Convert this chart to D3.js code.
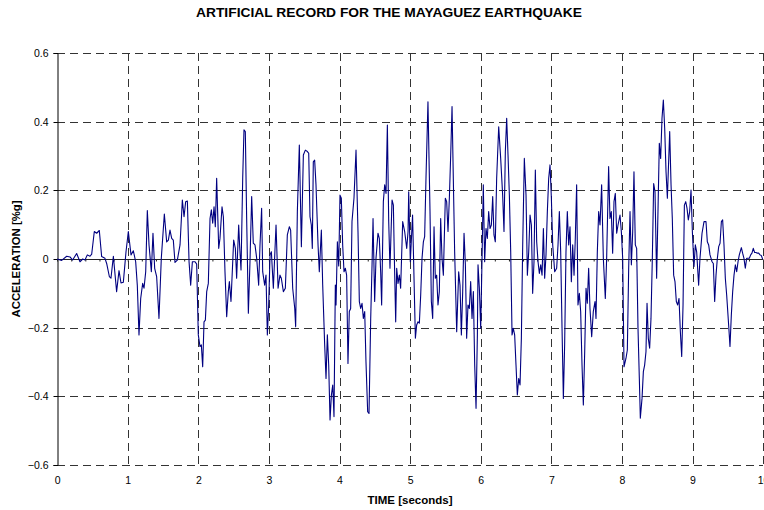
<!DOCTYPE html>
<html>
<head>
<meta charset="utf-8">
<script src="https://cdn.jsdelivr.net/npm/d3@7"></script>
<style>
  html, body { margin: 0; padding: 0; background: #fff; }
  svg { display: block; font-family: "Liberation Sans", Arial, sans-serif; }
</style>
</head>
<body>
<svg id="chart" width="764" height="510"></svg>
<script>
// Synthetic accelerogram: time (s) and acceleration (%g)
const time = [
  0,0.065,0.136,0.183,0.220,0.277,0.324,0.362,0.395,0.428,0.466,0.490,0.527,0.560,0.598,0.631,0.678,0.702,0.740,0.763,
  0.797,0.843,0.877,0.905,0.938,0.976,1.009,1.047,1.080,1.113,1.136,1.160,1.184,1.212,1.231,1.255,1.278,1.302,1.335,1.358,
  1.382,1.410,1.443,1.476,1.519,1.552,1.576,1.599,1.623,1.646,1.670,1.703,1.741,1.774,1.798,1.821,1.845,1.869,1.892,1.916,
  1.954,1.977,2.000,2.024,2.043,2.062,2.081,2.100,2.119,2.142,2.166,2.185,2.204,2.223,2.241,2.260,2.289,2.307,2.336,2.355,
  2.378,2.402,2.425,2.440,2.463,2.501,2.525,2.543,2.572,2.586,2.605,2.629,2.647,2.666,2.685,2.709,2.732,2.756,2.779,2.803,
  2.827,2.855,2.874,2.897,2.912,2.940,2.959,2.978,2.997,3.016,3.035,3.063,3.101,3.130,3.157,3.176,3.205,3.233,3.261,3.290,
  3.308,3.337,3.366,3.379,3.403,3.431,3.460,3.488,3.516,3.545,3.564,3.582,3.601,3.615,3.629,3.648,3.667,3.696,3.714,3.743,
  3.762,3.790,3.809,3.828,3.847,3.866,3.885,3.904,3.922,3.941,3.951,3.970,3.989,4.007,4.026,4.045,4.064,4.083,4.101,4.120,
  4.139,4.158,4.177,4.205,4.234,4.262,4.281,4.300,4.319,4.338,4.357,4.375,4.399,4.418,4.442,4.461,4.475,4.498,4.517,4.545,
  4.564,4.583,4.597,4.621,4.640,4.659,4.678,4.697,4.715,4.744,4.763,4.777,4.796,4.810,4.829,4.848,4.866,4.895,4.923,4.952,
  4.971,4.980,5.003,5.035,5.075,5.093,5.112,5.131,5.150,5.169,5.188,5.206,5.225,5.253,5.282,5.301,5.320,5.339,5.357,5.376,
  5.395,5.414,5.433,5.452,5.471,5.499,5.518,5.537,5.556,5.575,5.594,5.612,5.631,5.660,5.688,5.707,5.726,5.745,5.764,5.783,
  5.801,5.820,5.839,5.858,5.877,5.896,5.915,5.934,5.953,5.962,5.981,6.000,6.019,6.037,6.056,6.075,6.094,6.113,6.132,6.151,
  6.170,6.188,6.207,6.226,6.255,6.283,6.311,6.330,6.349,6.368,6.387,6.406,6.425,6.444,6.462,6.481,6.500,6.519,6.538,6.557,
  6.576,6.595,6.618,6.642,6.661,6.680,6.699,6.718,6.736,6.755,6.774,6.793,6.812,6.831,6.850,6.869,6.888,6.906,6.925,6.944,
  6.963,6.982,7.001,7.020,7.048,7.076,7.095,7.114,7.133,7.152,7.171,7.189,7.208,7.227,7.246,7.265,7.284,7.303,7.322,7.340,
  7.359,7.378,7.397,7.416,7.435,7.454,7.473,7.492,7.510,7.529,7.548,7.572,7.595,7.619,7.633,7.652,7.671,7.690,7.713,7.737,
  7.765,7.784,7.812,7.831,7.850,7.869,7.888,7.907,7.926,7.945,7.973,7.992,8.011,8.030,8.058,8.077,8.096,8.115,8.134,8.153,
  8.171,8.190,8.209,8.228,8.247,8.261,8.285,8.304,8.322,8.341,8.356,8.374,8.393,8.412,8.431,8.450,8.469,8.492,8.511,8.530,
  8.549,8.568,8.587,8.606,8.625,8.644,8.662,8.677,8.696,8.714,8.733,8.752,8.771,8.790,8.809,8.828,8.847,8.866,8.885,8.904,
  8.922,8.941,8.960,8.979,8.998,9.021,9.040,9.059,9.087,9.106,9.135,9.163,9.191,9.210,9.229,9.248,9.277,9.295,9.314,9.333,
  9.352,9.371,9.390,9.409,9.427,9.446,9.465,9.484,9.512,9.531,9.550,9.569,9.588,9.607,9.626,9.645,9.663,9.692,9.710,9.729,
  9.748,9.767,9.786,9.805,9.824,9.842,9.861,9.880,9.899,9.918,9.937,9.956,9.975,9.993
];
const accel = [
  0,-0.004,0.008,0.006,-0.003,0.016,-0.008,0,-0.003,0.012,0.008,0.014,0.080,0.075,0.083,0.007,0.002,-0.013,-0.051,-0.056,
  0.008,-0.095,-0.034,-0.070,-0.068,0.021,0.080,0.012,0.024,-0.008,-0.076,-0.221,-0.115,-0.071,-0.085,-0.037,0.141,0.041,-0.037,0.075,
  -0.027,-0.051,-0.173,0.002,0.131,0.050,0.055,0.084,0.060,0.055,-0.010,-0.003,0.041,0.172,0.123,0.167,0.169,-0.008,-0.076,-0.008,
  -0.008,-0.015,-0.221,-0.255,-0.250,-0.314,-0.183,-0.178,-0.095,-0.071,0.118,0.143,0.104,0.152,0.094,0.235,0.031,0.060,0.152,0.123,
  -0.037,-0.168,-0.095,-0.066,-0.124,0.055,0.031,-0.056,0.099,0.036,-0.032,0.235,0.376,0.371,0.118,-0.158,-0.008,0.182,0.046,0.041,
  0.002,-0.076,0.041,0.148,-0.037,-0.076,-0.047,-0.221,-0.134,0.012,0.021,-0.085,0.099,-0.085,-0.047,-0.056,-0.095,-0.085,0.070,0.094,
  0.084,-0.085,-0.144,-0.197,0.138,0.332,0.036,0.303,0.317,0.313,0.308,0.123,0.099,0.031,0.283,0.288,0.216,0.041,-0.037,0.084,
  -0.076,-0.250,-0.348,-0.221,-0.309,-0.469,-0.396,-0.367,-0.459,-0.076,-0.134,0.050,-0.020,0.186,0.177,0.041,-0.037,-0.027,-0.047,-0.304,
  -0.153,-0.144,0.109,0.177,0.317,0.080,-0.124,-0.144,-0.129,-0.173,-0.153,-0.299,-0.445,-0.450,-0.173,-0.017,0.118,-0.124,0.002,0.075,
  0.060,-0.037,-0.134,0.167,0.216,0.191,0.390,0.109,-0.027,0.172,0.157,0.002,-0.183,-0.027,-0.071,-0.047,-0.085,0.109,0.080,0.031,
  0.080,0.196,-0.008,0.128,-0.231,-0.192,-0.183,-0.187,-0.105,0.002,0.050,0.065,0.235,0.458,0.138,-0.124,-0.173,0.094,-0.056,-0.047,
  -0.134,-0.095,0.118,0.002,-0.047,0.177,0.167,0.080,0.177,0.303,0.444,0.235,0.021,-0.212,-0.037,-0.076,-0.221,-0.095,0.075,-0.017,
  -0.231,-0.134,-0.144,-0.066,-0.173,-0.095,-0.309,-0.435,-0.221,-0.017,-0.085,-0.202,0.002,0.216,-0.008,0.089,0.060,0.138,0.089,0.099,
  0.182,0.070,0.050,0.235,0.385,0.293,0.186,0.080,0.313,0.410,0.303,0.186,0.021,-0.221,-0.202,-0.221,-0.309,-0.396,-0.348,-0.367,
  -0.231,0.041,0.293,0.186,-0.047,0.021,0.128,0.099,-0.100,-0.008,0.259,0.050,-0.008,-0.042,-0.017,-0.047,0.089,-0.056,0.012,0.138,
  0.235,0.274,0.177,0.041,-0.037,-0.027,0.041,0.138,0.021,-0.202,-0.406,-0.250,0.021,0.138,0.041,0.094,-0.066,0.041,-0.047,0.060,
  0.216,-0.134,-0.100,-0.153,-0.309,-0.425,-0.270,-0.085,-0.129,-0.027,-0.144,-0.226,-0.153,-0.124,-0.173,0.021,0.138,0.099,0.216,0.002,
  -0.115,0.002,0.269,0.118,0.138,0.017,0.167,0.191,0.075,0.099,0.128,0.080,0.002,-0.314,-0.289,-0.265,-0.027,0.138,-0.017,0.080,
  0.254,0.041,0.031,-0.202,-0.348,-0.464,-0.406,-0.328,-0.309,-0.270,-0.129,-0.231,-0.260,-0.173,0.002,0.220,0.196,-0.056,0.138,0.337,
  0.293,0.410,0.463,0.381,0.254,0.177,0.283,0.371,0.216,0.118,-0.047,-0.066,-0.124,-0.134,-0.115,-0.212,-0.284,-0.134,0.157,0.167,
  0.148,0.114,0.138,0.201,0.080,-0.022,0.041,0.021,-0.076,0.002,0.075,0.109,0.109,0.050,0.041,0.012,-0.008,-0.013,-0.124,-0.047,
  0.002,0.036,0.046,0.109,0.114,0.041,-0.056,-0.105,-0.192,-0.255,-0.163,-0.095,-0.047,-0.017,-0.037,-0.008,0.012,0.033,0.017,0.002,
  -0.027,0.002,0.002,0.002,0.012,0.017,0.031,0.019,0.019,0.017,0.017,0.012,0.010,0
];
const xTicks = [0,1,2,3,4,5,6,7,8,9,10];
const yTicks = [-0.6,-0.4,-0.2,0,0.2,0.4,0.6];
const minorX = d3.range(0, 10.0001, 0.2);

const svg = d3.select("#chart");
const plotLeft = 57.1, plotRight = 763.1, plotTop = 53, plotBottom = 465;
const x = d3.scaleLinear().domain([0, 10]).range([plotLeft, plotRight]);
const y = d3.scaleLinear().domain([-0.6, 0.6]).range([plotBottom, plotTop]);
const fontFamily = "'Liberation Sans', Arial, sans-serif";

// dashed grid
const grid = svg.append("g")
  .attr("stroke", "#333").attr("stroke-width", 1).attr("stroke-dasharray", "8,5")
  .attr("shape-rendering", "crispEdges");
grid.selectAll("line.h").data(yTicks.filter(d => d !== 0)).join("line")
  .attr("class", "h")
  .attr("x1", plotLeft).attr("x2", plotRight)
  .attr("y1", d => Math.round(y(d)) + 0.5).attr("y2", d => Math.round(y(d)) + 0.5);
grid.selectAll("line.v").data(xTicks.filter(d => d !== 0)).join("line")
  .attr("class", "v")
  .attr("x1", d => Math.round(x(d)) + 0.5).attr("x2", d => Math.round(x(d)) + 0.5)
  .attr("y1", plotTop).attr("y2", plotBottom);

// y axis on the left
const yAxis = d3.axisLeft(y).tickValues(yTicks).tickSize(4).tickPadding(5)
  .tickFormat(d => d === 0 ? "0" : d3.format(".1f")(d));
const gy = svg.append("g").attr("transform", `translate(${Math.round(plotLeft) + 0.5},0)`).call(yAxis);
gy.select(".domain").attr("stroke", "#000");
gy.selectAll(".tick line").attr("stroke", "#000");
gy.selectAll(".tick text").attr("font-size", 10.5).attr("fill", "#000")
  .attr("font-family", fontFamily);
gy.selectAll(".tick").attr("transform", d => `translate(0,${Math.round(y(d)) + 0.5})`);

// zero line with minor ticks
const gx0 = svg.append("g").attr("transform", `translate(0,${Math.round(y(0)) + 0.5})`)
  .call(d3.axisBottom(x).tickValues(minorX).tickSize(2).tickFormat(""));
gx0.select(".domain").attr("stroke", "#222").attr("d", `M${plotLeft},0H${plotRight}`);
gx0.selectAll(".tick line").attr("stroke", "#222");

// time labels below the plot
const gx = svg.append("g").attr("transform", `translate(0,${plotBottom})`)
  .call(d3.axisBottom(x).tickValues(xTicks).tickSize(0).tickPadding(12).tickFormat(d3.format("d")));
gx.select(".domain").remove();
gx.selectAll(".tick text").attr("font-size", 10.5).attr("fill", "#000")
  .attr("font-family", fontFamily);

// acceleration trace
const n = Math.min(time.length, accel.length);
const series = d3.range(n).map(i => ({ t: time[i], a: accel[i] }));
svg.append("path").datum(series)
  .attr("fill", "none").attr("stroke", "#000080").attr("stroke-width", 1.1)
  .attr("stroke-linejoin", "round")
  .attr("d", d3.line().x(d => x(d.t)).y(d => y(d.a)));

// titles
svg.append("text").attr("x", 389).attr("y", 17).attr("text-anchor", "middle")
  .attr("font-size", 13).attr("font-weight", "bold")
  .attr("textLength", 386).attr("lengthAdjust", "spacingAndGlyphs")
  .text("ARTIFICIAL RECORD FOR THE MAYAGUEZ EARTHQUAKE");
svg.append("text").attr("x", 410).attr("y", 504).attr("text-anchor", "middle")
  .attr("font-size", 11).attr("font-weight", "bold")
  .attr("textLength", 85).attr("lengthAdjust", "spacingAndGlyphs")
  .text("TIME [seconds]");
svg.append("text").attr("transform", "translate(20,259) rotate(-90)").attr("text-anchor", "middle")
  .attr("font-size", 11).attr("font-weight", "bold")
  .attr("textLength", 117).attr("lengthAdjust", "spacingAndGlyphs")
  .text("ACCELERATION [%g]");
</script>
</body>
</html>
